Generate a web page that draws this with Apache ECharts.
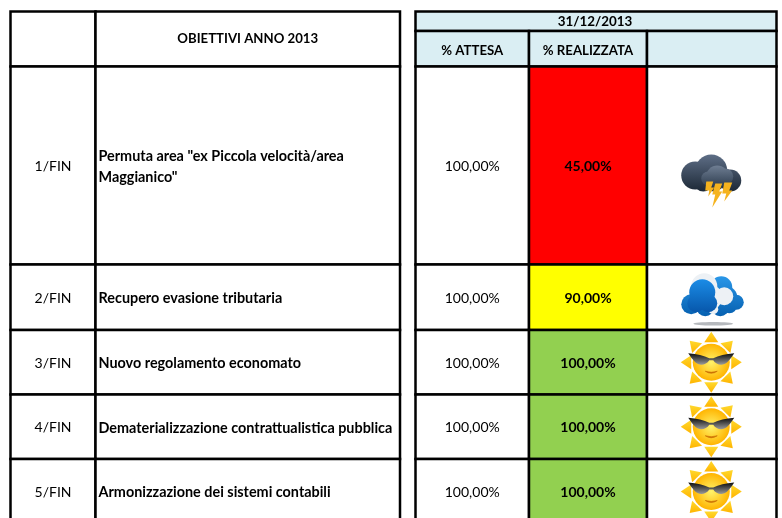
<!DOCTYPE html>
<html>
<head>
<meta charset="utf-8">
<script src="https://cdn.jsdelivr.net/npm/echarts@6/dist/echarts.min.js"></script>
<style>
  html, body { margin: 0; background: #fff; }
  #main { width: 782px; height: 518px; }
</style>
</head>
<body>
<div id="main"></div>
<script>
// dati
const codes = ['1/FIN', '2/FIN', '3/FIN', '4/FIN', '5/FIN'];
const objectives = [
  'Permuta area "ex Piccola velocità/area\nMaggianico"',
  'Recupero evasione tributaria',
  'Nuovo regolamento economato',
  'Dematerializzazione contrattualistica pubblica',
  'Armonizzazione dei sistemi contabili'
];
const expected = [100, 100, 100, 100, 100];
const realized = [45, 90, 100, 100, 100];
const weather = ['storm', 'cloud', 'sun', 'sun', 'sun'];

const headTitle = 'OBIETTIVI ANNO 2013';
const headDate = '31/12/2013';
const headExpected = '% ATTESA';
const headRealized = '% REALIZZATA';

// griglia della tabella, in pixel dell'immagine
const colLeft = [10.5, 95.5, 400];
const colRight = [415.5, 529, 647, 776.5];
const rowTop = [66.5, 264.5, 330, 394.5, 459, 540];
const headTop = 11.5;
const headMid = 31;

const HEAD_BG = '#daeef3';
const FONT = 'Lato, "Open Sans", sans-serif';

function pct(v) {
  return v.toFixed(2).replace('.', ',') + '%';
}

function realizedColor(v) {
  if (v < 60) return '#ff0000';
  if (v < 100) return '#ffff00';
  return '#92d050';
}

function cell(api, x0, y0, x1, y1, fill, lw) {
  const a = api.coord([x0, y0]);
  const b = api.coord([x1, y1]);
  return {
    type: 'rect',
    shape: { x: a[0], y: a[1], width: b[0] - a[0], height: b[1] - a[1] },
    style: { fill: fill || '#fff', stroke: '#000', lineWidth: lw || 2.5 }
  };
}

function label(api, x, y, text, font, align) {
  const p = api.coord([x, y]);
  return {
    type: 'text',
    style: {
      x: p[0], y: p[1], text: text,
      fill: '#000',
      font: font + ' ' + FONT,
      align: align || 'center',
      verticalAlign: 'middle',
      lineHeight: 21
    }
  };
}

function circles(list, fill) {
  return list.map(function (c) {
    return { type: 'circle', shape: { cx: c[0], cy: c[1], r: c[2] }, style: { fill: fill } };
  });
}

function linear(top, bottom) {
  return new echarts.graphic.LinearGradient(0, 0, 0, 1, [
    { offset: 0, color: top }, { offset: 1, color: bottom }
  ]);
}

// sfumatura unica per tutti i cerchi di una nuvola
function shared(y0, y1, top, bottom) {
  return new echarts.graphic.LinearGradient(0, y0, 0, y1, [
    { offset: 0, color: top }, { offset: 1, color: bottom }
  ], true);
}

function radial(inner, outer) {
  return new echarts.graphic.RadialGradient(0.5, 0.5, 0.5, [
    { offset: 0, color: inner }, { offset: 1, color: outer }
  ]);
}

function stormIcon() {
  const bolts = [
    'M-5,16 L2,16 L0,22 L3,22 L-3,31 L-2,25 L-6,25 Z',
    'M4,18 L11,18 L8,26 L11,26 L1,42 L4,29 L1,29 Z',
    'M13,17 L21,17 L18,25 L21,25 L13,36 L15,28 L11,28 Z'
  ];
  return [].concat(
    circles([[0, 5, 16], [-16, 10, 14], [19, 15, 11], [3, 16, 10], [-8, 16, 10]], shared(-11, 26, '#5e6e86', '#1c2836')),
    circles([[6, 11, 11], [-3, 13, 7], [14, 11, 8], [8, 14, 7]], shared(0, 21, '#6f7e93', '#2f3e50')),
    bolts.map(function (d) {
      return { type: 'path', shape: { pathData: d }, style: { fill: '#f5b31e' } };
    })
  );
}

function cloudIcon() {
  return [].concat(
    [{ type: 'ellipse', shape: { cx: 2, cy: 26.5, rx: 20, ry: 1.8 }, style: { fill: '#b6b9bd' } }],
    circles([[10, -10, 11], [15, 0, 11], [25, 5, 7.5], [-20, 7, 10], [-6, 10, 9], [9, 10, 9], [18, 8, 8]], shared(-21, 19, '#2a97e8', '#0660b0')),
    circles([[-7, -11, 13], [13, -1, 9], [2, 12, 5], [-2, 0, 13]], '#edf1f5'),
    circles([[-9, -5, 13], [-15, 6, 9], [-3, 6, 9]], shared(-18, 15, '#1b8ce6', '#0757ab'))
  );
}

function sunIcon() {
  const rays = [];
  for (let i = 0; i < 8; i++) {
    const a = i * Math.PI / 4;
    const ray = [[-7, -20], [0, -30.5], [7, -20]].map(function (q) {
      return [q[0] * Math.cos(a) - q[1] * Math.sin(a), q[0] * Math.sin(a) + q[1] * Math.cos(a)];
    });
    rays.push({ type: 'polygon', shape: { points: ray }, style: { fill: linear('#ffd92e', '#ffb400') } });
  }
  const glasses = 'M-23,-9 Q-10,-8 -2,-4 L2,-4 Q10,-8 23,-9 Q20,-4 16,0 C12,4 5,3 2,-2 L-2,-2 C-5,3 -12,4 -16,0 Q-20,-4 -23,-9 Z';
  return rays.concat(
    circles([[0, 0, 18.5]], radial('#fff36b', '#ffb400')),
    [{ type: 'path', shape: { pathData: glasses }, style: { fill: linear('#0c0c0c', '#9a9a9a') } }],
    [{ type: 'path', shape: { pathData: 'M-6,9 Q0,13 6,9 Q0,11 -6,9 Z' }, style: { fill: '#c86a00', stroke: '#c86a00', lineWidth: 0.6 } }]
  );
}

const iconMakers = { storm: stormIcon, cloud: cloudIcon, sun: sunIcon };

function renderHead(params, api) {
  const midLeft = (colLeft[1] + colLeft[2]) / 2;
  const headFont = 'bold 13.2px';
  return {
    type: 'group',
    children: [
      cell(api, colLeft[0], headTop, colLeft[1], rowTop[0]),
      cell(api, colLeft[1], headTop, colLeft[2], rowTop[0]),
      cell(api, colRight[0], headTop, colRight[3], headMid, HEAD_BG),
      cell(api, colRight[0], headMid, colRight[1], rowTop[0], HEAD_BG),
      cell(api, colRight[1], headMid, colRight[2], rowTop[0], HEAD_BG),
      cell(api, colRight[2], headMid, colRight[3], rowTop[0], HEAD_BG),
      label(api, midLeft, 39, headTitle, headFont),
      label(api, (colRight[0] + colRight[3]) / 2 - 1, 21.5, headDate, 'bold 13.4px'),
      label(api, (colRight[0] + colRight[1]) / 2, 50.5, headExpected, headFont),
      label(api, (colRight[1] + colRight[2]) / 2, 50.5, headRealized, headFont)
    ]
  };
}

function renderRow(params, api) {
  const i = params.dataIndex;
  const y0 = rowTop[i];
  const y1 = rowTop[i + 1];
  const yc = i === 4 ? 491.5 : (y0 + y1) / 2;
  const yt = yc + 1.2;
  const iconAt = api.coord([(colRight[2] + colRight[3]) / 2 - 0.5, yc]);
  return {
    type: 'group',
    children: [
      cell(api, colLeft[0], y0, colLeft[1], y1),
      cell(api, colLeft[1], y0, colLeft[2], y1),
      cell(api, colRight[0], y0, colRight[1], y1),
      cell(api, colRight[1], y0, colRight[2], y1, realizedColor(api.value(3))),
      cell(api, colRight[2], y0, colRight[3], y1),
      label(api, (colLeft[0] + colLeft[1]) / 2, yt, codes[i], '14px'),
      label(api, colLeft[1] + 3, yt, objectives[i], 'bold 14.4px', 'left'),
      label(api, (colRight[0] + colRight[1]) / 2, yt, pct(api.value(2)), '14px'),
      label(api, (colRight[1] + colRight[2]) / 2, yt, pct(api.value(3)), 'bold 14px'),
      {
        type: 'group',
        x: iconAt[0],
        y: iconAt[1],
        children: iconMakers[weather[i]]()
      }
    ]
  };
}

const chart = echarts.init(document.getElementById('main'));
chart.setOption({
  animation: false,
  grid: { left: 0, right: 0, top: 0, bottom: 0 },
  xAxis: { type: 'value', min: 0, max: 782, show: false },
  yAxis: { type: 'value', min: 0, max: 518, inverse: true, show: false },
  series: [
    {
      type: 'custom',
      coordinateSystem: 'cartesian2d',
      renderItem: renderHead,
      data: [[0, 0]],
      clip: false,
      silent: true
    },
    {
      type: 'custom',
      coordinateSystem: 'cartesian2d',
      renderItem: renderRow,
      data: codes.map(function (c, i) { return [i, i, expected[i], realized[i]]; }),
      encode: { x: 0, y: 1 },
      clip: false,
      silent: true
    }
  ]
});
</script>
</body>
</html>
